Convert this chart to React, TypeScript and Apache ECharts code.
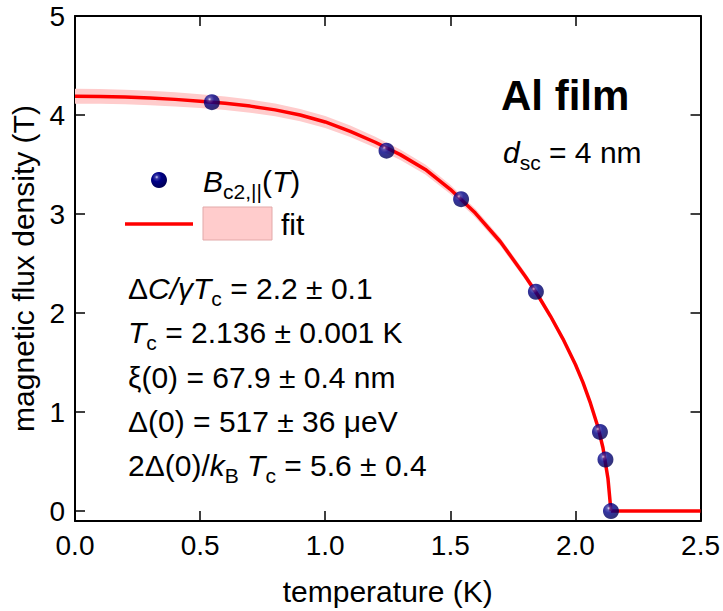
import React, { useEffect, useRef } from "react";
import * as echarts from "echarts";

// measured data B_c2,|| (T)
const dataT = [0.547, 1.245, 1.543, 1.842, 2.098, 2.12, 2.142];
const dataB = [4.13, 3.64, 3.15, 2.215, 0.8, 0.52, 0.0];

// fit curve
const fitT = [0, 0.1, 0.2, 0.3, 0.4, 0.5, 0.6, 0.7, 0.8, 0.9, 1.0, 1.1, 1.2, 1.3, 1.4, 1.5, 1.6, 1.7, 1.8, 1.85, 1.9, 1.95, 2.0, 2.03, 2.06, 2.09, 2.11, 2.13, 2.142];
const fitB = [4.19, 4.188, 4.182, 4.172, 4.158, 4.14, 4.118, 4.09, 4.052, 4.0, 3.93, 3.835, 3.725, 3.6, 3.45, 3.25, 3.01, 2.72, 2.37, 2.18, 1.97, 1.74, 1.48, 1.3, 1.09, 0.85, 0.64, 0.33, 0];
const bandHalf = [0.075, 0.075, 0.074, 0.073, 0.072, 0.07, 0.068, 0.066, 0.064, 0.062, 0.06, 0.058, 0.056, 0.053, 0.05, 0.047, 0.044, 0.041, 0.037, 0.035, 0.032, 0.03, 0.028, 0.026, 0.024, 0.02, 0.016, 0.012, 0.01];
// normal state above Tc
const flatT = [2.142, 2.5];
const flatB = [0, 0];

const FONT = "'Liberation Sans', Arial, Helvetica, sans-serif";
const FS = 30;
const TICK_FS = 28;

const ballColor = () =>
  new echarts.graphic.RadialGradient(0.36, 0.32, 0.68, [
    { offset: 0, color: "#d8d8ff" },
    { offset: 0.16, color: "#3a3aa8" },
    { offset: 0.42, color: "#000088" },
    { offset: 1, color: "#000058" },
  ]);

const rich = {
  n: { fontSize: FS, fontFamily: FONT, color: "#000", lineHeight: 42 },
  i: { fontSize: FS, fontFamily: FONT, color: "#000", lineHeight: 42, fontStyle: "italic" },
  s: { fontSize: 21, fontFamily: FONT, color: "#000", lineHeight: 24, verticalAlign: "bottom" },
};

function richText(x: number, y: number, text: string, extra: any = {}) {
  return {
    type: "text",
    x,
    y,
    z: 100,
    style: {
      text,
      rich,
      verticalAlign: "middle",
      align: "left",
      ...extra,
    },
  };
}

export default function App() {
  const ref = useRef<HTMLDivElement>(null);
  useEffect(() => {
    document.body.style.margin = "0";
    const chart = echarts.init(ref.current!, null, { renderer: "svg" });
    const axisLine = { show: true, onZero: false, lineStyle: { color: "#000", width: 2 } };
    const axisTick = { show: true, inside: true, length: 10, lineStyle: { color: "#000", width: 1.5 } };
    const yFmt = (v: number) => (Math.abs(v - Math.round(v)) < 1e-9 ? String(Math.round(v)) : "");

    const bandUpper = fitT.map((t, k) => [t, fitB[k] + bandHalf[k]]);
    const bandLower = fitT.map((t, k) => [t, fitB[k] - bandHalf[k]]);

    chart.setOption({
      animation: false,
      backgroundColor: "#fff",
      grid: { left: 75, right: 21, top: 16, bottom: 90, containLabel: false },
      xAxis: [
        {
          type: "value",
          min: 0,
          max: 2.5,
          interval: 0.5,
          position: "bottom",
          name: "temperature (K)",
          nameLocation: "middle",
          nameGap: 55,
          nameTextStyle: { fontSize: FS, fontFamily: FONT, color: "#000" },
          axisLine,
          axisTick,
          splitLine: { show: false },
          axisLabel: {
            fontSize: TICK_FS,
            fontFamily: FONT,
            color: "#000",
            margin: 10,
            formatter: (v: number) => v.toFixed(1),
          },
        },
        {
          type: "value",
          min: 0,
          max: 2.5,
          interval: 0.5,
          position: "top",
          axisLine,
          axisTick,
          splitLine: { show: false },
          axisLabel: { show: false },
        },
      ],
      yAxis: [
        {
          type: "value",
          min: -0.1,
          max: 5,
          splitNumber: 5,
          position: "left",
          name: "magnetic flux density (T)",
          nameLocation: "middle",
          nameGap: 30,
          nameRotate: 90,
          nameTextStyle: { fontSize: FS, fontFamily: FONT, color: "#000" },
          axisLine,
          axisTick,
          splitLine: { show: false },
          axisLabel: { fontSize: TICK_FS, fontFamily: FONT, color: "#000", margin: 10, formatter: yFmt },
        },
        {
          type: "value",
          min: -0.1,
          max: 5,
          splitNumber: 5,
          position: "right",
          axisLine,
          axisTick,
          splitLine: { show: false },
          axisLabel: { show: false },
        },
      ],
      series: [
        {
          type: "custom",
          name: "band",
          z: 1,
          silent: true,
          data: [[0, 0]],
          renderItem: (_params: any, api: any) => {
            const pts = bandUpper
              .map((p) => api.coord(p))
              .concat(bandLower.slice().reverse().map((p) => api.coord(p)));
            return {
              type: "polygon",
              shape: { points: pts },
              style: { fill: "#ffcccc", stroke: "none" },
            };
          },
        },
        {
          type: "line",
          name: "fit",
          z: 3,
          data: fitT.map((t, k) => [t, fitB[k]]),
          showSymbol: false,
          lineStyle: { color: "#ff0000", width: 3.5, join: "round" },
        },
        {
          type: "line",
          name: "fit-normal",
          z: 3,
          data: flatT.map((t, k) => [t, flatB[k]]),
          showSymbol: false,
          lineStyle: { color: "#ff0000", width: 3.5 },
        },
        {
          type: "scatter",
          name: "Bc2",
          z: 5,
          data: dataT.map((t, k) => [t, dataB[k]]),
          symbol: "circle",
          symbolSize: 16,
          clip: false,
          itemStyle: { color: ballColor(), borderWidth: 0 },
        },
      ],
      graphic: [
        // legend
        {
          type: "circle",
          shape: { cx: 159, cy: 180, r: 8 },
          style: { fill: ballColor() },
          z: 100,
        },
        richText(203, 181, "{i|B}{s|c2,||}{n|(}{i|T}{n|)}"),
        {
          type: "line",
          shape: { x1: 125, y1: 224, x2: 193, y2: 224 },
          style: { stroke: "#ff0000", lineWidth: 3.5 },
          z: 100,
        },
        {
          type: "rect",
          shape: { x: 203, y: 207, width: 69, height: 33 },
          style: { fill: "#ffcccc", stroke: "#e2a9a9", lineWidth: 1 },
          z: 100,
        },
        richText(281, 224, "{n|fit}"),
        // title
        {
          type: "text",
          x: 501,
          y: 95,
          z: 100,
          style: {
            text: "Al film",
            fontSize: 42,
            fontWeight: "bold",
            fontFamily: FONT,
            fill: "#000",
            verticalAlign: "middle",
            align: "left",
          },
        },
        richText(503, 152, "{i|d}{s|sc}{n| = 4 nm}"),
        // fit parameters
        richText(128, 288, "{n|Δ}{i|C/γT}{s|c}{n| = 2.2 ± 0.1}"),
        richText(128, 332, "{i|T}{s|c}{n| = 2.136 ± 0.001 K}"),
        richText(128, 377, "{n|ξ(0) = 67.9 ± 0.4 nm}"),
        richText(128, 421, "{n|Δ(0) = 517 ± 36 μeV}"),
        richText(128, 465, "{n|2Δ(0)/}{i|k}{s|B}{i| T}{s|c}{n| = 5.6 ± 0.4}"),
      ],
    });
    return () => chart.dispose();
  }, []);
  return (
    <div
      ref={ref}
      style={{ position: "fixed", left: 0, top: 0, width: 723, height: 611 }}
    />
  );
}
